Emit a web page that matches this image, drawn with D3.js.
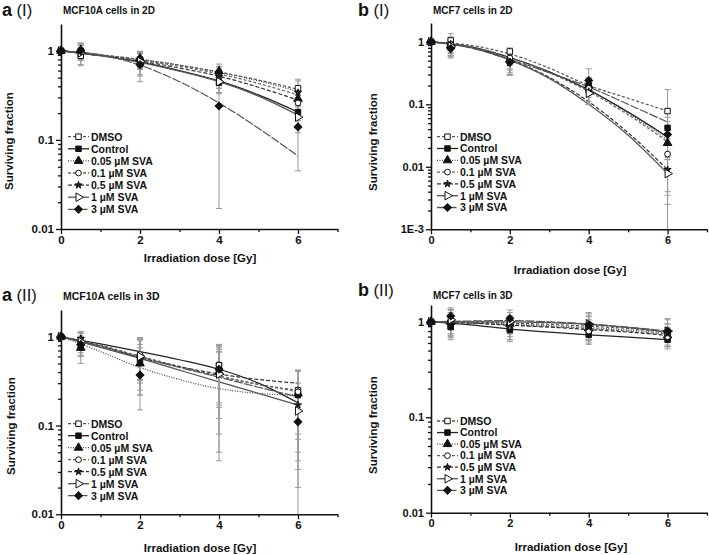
<!DOCTYPE html>
<html><head><meta charset="utf-8">
<script src="https://cdn.jsdelivr.net/npm/d3@7"></script>
<style>body{margin:0;background:#fff} text{font-family:"Liberation Sans",Arial,sans-serif}</style>
</head><body><svg id="c" width="709" height="555"></svg>
<script>
// ---------- DATA ----------
const doses = [0, 0.5, 2, 4, 6];
const fitDoses = [0, 1, 2, 3, 4, 5, 6];
const seriesNames = ["DMSO", "Control", "0.05 µM SVA", "0.1 µM SVA", "0.5 µM SVA", "1 µM SVA", "3 µM SVA"];
const xTickLabels = ["0", "2", "4", "6"];
const yTicksA = [1, 0.1, 0.01];
const yTickLabelsA = ["1", "0.1", "0.01"];
const yTicksBI = [1, 0.1, 0.01, 0.001];
const yTickLabelsBI = ["1", "0.1", "0.01", "1E-3"];

// a (I) MCF10A 2D
const aI_means = [
  [1, 0.88, 0.80, 0.55, 0.38],
  [1, 1.00, 0.72, 0.44, 0.205],
  [1, 1.02, 0.82, 0.59, 0.29],
  [1, 0.97, 0.78, 0.50, 0.26],
  [1, 0.99, 0.80, 0.52, 0.34],
  [1, 0.95, 0.76, 0.45, 0.18],
  [1, 1.00, 0.70, 0.24, 0.14]];
const aI_errors = [
  [0, 0.20, 0.18, 0.12, 0.10],
  [0, 0.15, 0.20, 0.10, 0.04],
  [0, 0.20, 0.17, 0.12, 0.08],
  [0, 0.18, 0.15, 0.12, 0.08],
  [0, 0.20, 0.16, 0.14, 0.12],
  [0, 0.25, 0.22, 0.12, 0.06],
  [0, 0.22, 0.25, 0.223, 0.095]];
const aI_fits = [
  [1, 0.90, 0.80, 0.69, 0.58, 0.47, 0.37],
  [1, 0.88, 0.75, 0.60, 0.46, 0.32, 0.205],
  [1, 0.90, 0.80, 0.69, 0.57, 0.46, 0.35],
  [1, 0.90, 0.79, 0.67, 0.55, 0.43, 0.32],
  [1, 0.89, 0.77, 0.64, 0.52, 0.39, 0.28],
  [1, 0.88, 0.74, 0.59, 0.45, 0.31, 0.19],
  [1, 0.90, 0.69, 0.45, 0.26, 0.135, 0.066]];

// b (I) MCF7 2D
const bI_means = [
  [1, 1.05, 0.70, 0.17, 0.078],
  [1, 0.90, 0.50, 0.20, 0.042],
  [1, 0.88, 0.52, 0.20, 0.024],
  [1, 0.90, 0.55, 0.18, 0.016],
  [1, 0.86, 0.47, 0.16, 0.009],
  [1, 0.85, 0.48, 0.15, 0.0078],
  [1, 0.78, 0.47, 0.24, 0.033]];
const bI_errors = [
  [0, 0.30, 0.10, 0.07, 0.095],
  [0, 0.25, 0.20, 0.06, 0.02],
  [0, 0.20, 0.15, 0.07, 0.01],
  [0, 0.30, 0.20, 0.08, 0.012],
  [0, 0.25, 0.15, 0.06, 0.0055],
  [0, 0.30, 0.18, 0.05, 0.0053],
  [0, 0.20, 0.18, 0.13, 0.02]];
const bI_fits = [
  [1, 0.88, 0.64, 0.38, 0.20, 0.125, 0.078],
  [1, 0.83, 0.56, 0.33, 0.17, 0.075, 0.030],
  [1, 0.84, 0.57, 0.33, 0.17, 0.072, 0.027],
  [1, 0.82, 0.55, 0.32, 0.16, 0.068, 0.025],
  [1, 0.82, 0.52, 0.27, 0.11, 0.035, 0.009],
  [1, 0.81, 0.51, 0.26, 0.10, 0.032, 0.0078],
  [1, 0.80, 0.52, 0.32, 0.19, 0.100, 0.052]];

// a (II) MCF10A 3D
const aII_means = [
  [1, 0.85, 0.55, 0.48, 0.25],
  [1, 0.80, 0.60, 0.42, 0.22],
  [1, 0.75, 0.50, 0.40, 0.23],
  [1, 0.90, 0.63, 0.48, 0.24],
  [1, 0.95, 0.57, 0.42, 0.17],
  [1, 0.88, 0.60, 0.38, 0.146],
  [1, 0.82, 0.37, 0.43, 0.11]];
const aII_errors = [
  [0, 0.25, 0.40, 0.30, 0.17],
  [0, 0.20, 0.38, 0.30, 0.20],
  [0, 0.25, 0.25, 0.35, 0.18],
  [0, 0.20, 0.30, 0.32, 0.17],
  [0, 0.20, 0.25, 0.25, 0.13],
  [0, 0.22, 0.30, 0.30, 0.114],
  [0, 0.20, 0.15, 0.39, 0.11]];
const aII_fits = [
  [1, 0.80, 0.60, 0.46, 0.36, 0.29, 0.25],
  [1, 0.83, 0.68, 0.55, 0.43, 0.30, 0.18],
  [1, 0.68, 0.45, 0.33, 0.26, 0.23, 0.22],
  [1, 0.80, 0.60, 0.46, 0.36, 0.29, 0.24],
  [1, 0.78, 0.58, 0.46, 0.38, 0.33, 0.30],
  [1, 0.76, 0.57, 0.42, 0.31, 0.23, 0.17],
  [1, 0.78, 0.59, 0.45, 0.35, 0.27, 0.21]];

// b (II) MCF7 3D
const bII_means = [
  [1, 0.90, 0.85, 0.90, 0.75],
  [1, 0.88, 0.82, 0.73, 0.65],
  [1, 1.00, 0.95, 0.85, 0.72],
  [1, 1.02, 0.90, 0.80, 0.70],
  [1, 1.00, 0.92, 0.88, 0.75],
  [1, 1.05, 1.00, 0.95, 0.80],
  [1, 1.15, 1.08, 0.93, 0.80]];
const bII_errors = [
  [0, 0.20, 0.20, 0.25, 0.20],
  [0, 0.20, 0.20, 0.15, 0.10],
  [0, 0.25, 0.20, 0.20, 0.15],
  [0, 0.30, 0.25, 0.20, 0.15],
  [0, 0.35, 0.22, 0.25, 0.20],
  [0, 0.30, 0.25, 0.30, 0.25],
  [0, 0.25, 0.25, 0.28, 0.28]];
const bII_fits = [
  [1, 0.99, 0.97, 0.94, 0.90, 0.85, 0.78],
  [1, 0.93, 0.84, 0.78, 0.73, 0.69, 0.65],
  [1, 0.98, 0.95, 0.91, 0.87, 0.82, 0.76],
  [1, 0.97, 0.93, 0.89, 0.85, 0.80, 0.74],
  [1, 0.97, 0.92, 0.88, 0.83, 0.78, 0.72],
  [1, 1.00, 1.00, 0.98, 0.94, 0.87, 0.78],
  [1, 1.02, 1.03, 1.00, 0.95, 0.88, 0.80]];

// ---------- STYLES ----------
const styles = [
  {dash: "3,2", color: "#555", marker: "square", fill: "#fff"},
  {dash: null, color: "#222", marker: "square", fill: "#111"},
  {dash: "1,1.5", color: "#444", marker: "triangle", fill: "#111"},
  {dash: "3,2", color: "#666", marker: "circle", fill: "#fff"},
  {dash: "4,2", color: "#333", marker: "star", fill: "#222"},
  {dash: null, color: "#555", marker: "rtri", fill: "#fff"},
  {dash: "9,1.5", color: "#555", marker: "diamond", fill: "#111"}];

const svg = d3.select("#c");
const FONT = '"Liberation Sans",Arial,sans-serif';

function markerPath(type) {
  switch (type) {
    case "square": return d3.symbol(d3.symbolSquare, 30)();
    case "triangle": return d3.symbol(d3.symbolTriangle, 32)();
    case "circle": return d3.symbol(d3.symbolCircle, 26)();
    case "star": return d3.symbol(d3.symbolStar, 16)();
    case "rtri": return d3.symbol(d3.symbolTriangle, 32)();
    case "diamond": return d3.symbol(d3.symbolSquare, 30)();
  }
}
function markerRot(type) { return type === "rtri" ? 90 : (type === "diamond" ? 45 : 0); }

function drawMarker(g, type, fill, cx, cy) {
  g.append("path").attr("d", markerPath(type))
    .attr("transform", `translate(${cx},${cy}) rotate(${markerRot(type)})`)
    .attr("fill", fill).attr("stroke", "#111").attr("stroke-width", 1);
}

function drawPanel(cfg, means, errs, fits) {
  const g = svg.append("g");
  const x = d3.scaleLinear().domain([0, 7]).range([cfg.x0, cfg.x1]);
  const y = d3.scaleLog().domain([cfg.ymin, cfg.ymax]).range([cfg.yb, cfg.yt]);

  // minor y ticks
  const minors = [];
  for (let e = Math.floor(Math.log10(cfg.ymin)); e <= 1; e++)
    for (let m = 2; m <= 9; m++) { const v = m * Math.pow(10, e); if (v > cfg.ymin && v < cfg.ymax) minors.push(v); }
  const yMinor = g.append("g").attr("transform", `translate(${cfg.x0},0)`)
    .call(d3.axisLeft(y).tickValues(minors).tickSize(3).tickSizeOuter(0).tickFormat(""));
  yMinor.select(".domain").remove();
  const xMinor = g.append("g").attr("transform", `translate(0,${cfg.yb})`)
    .call(d3.axisBottom(x).tickValues([1, 3, 5, 7]).tickSize(3).tickSizeOuter(0).tickFormat(""));
  xMinor.select(".domain").remove();

  const yAx = g.append("g").attr("transform", `translate(${cfg.x0},0)`)
    .call(d3.axisLeft(y).tickValues(cfg.yTicks).tickSize(5).tickSizeOuter(0).tickPadding(2)
      .tickFormat((d, i) => cfg.yLabels[i]));
  const xAx = g.append("g").attr("transform", `translate(0,${cfg.yb})`)
    .call(d3.axisBottom(x).tickValues([0, 2, 4, 6]).tickSize(5).tickSizeOuter(0).tickPadding(2)
      .tickFormat((d, i) => xTickLabels[i]));
  [yAx, xAx, yMinor, xMinor].forEach(a => {
    a.selectAll("path,line").attr("stroke", "#111").attr("stroke-width", 1.3);
    a.selectAll("text").attr("fill", "#111").style("font-family", FONT)
      .style("font-size", cfg.tickFs + "px").style("font-weight", "bold");
  });
  yAx.select(".domain").attr("stroke-width", 1.6);
  xAx.select(".domain").attr("stroke-width", 1.6);

  // fitted curves
  const line = d3.line().x((d, i) => x(fitDoses[i])).y(d => y(d)).curve(d3.curveMonotoneX);
  fits.forEach((f, s) => {
    g.append("path").attr("d", line(f)).attr("fill", "none")
      .attr("stroke", styles[s].color).attr("stroke-width", 1.2)
      .attr("stroke-dasharray", styles[s].dash);
  });
  // error bars
  means.forEach((m, s) => {
    m.forEach((v, i) => {
      const e = errs[s][i];
      if (!e) return;
      const lo = v - e, hi = v + e;
      const yLo = lo > cfg.ymin ? y(lo) : cfg.yb;
      const yHi = y(hi);
      const cx = x(doses[i]);
      g.append("line").attr("x1", cx).attr("x2", cx).attr("y1", yLo).attr("y2", yHi)
        .attr("stroke", "#999").attr("stroke-width", 1);
      g.append("line").attr("x1", cx - 3).attr("x2", cx + 3).attr("y1", yHi).attr("y2", yHi)
        .attr("stroke", "#999").attr("stroke-width", 1);
      if (lo > cfg.ymin)
        g.append("line").attr("x1", cx - 3).attr("x2", cx + 3).attr("y1", yLo).attr("y2", yLo)
          .attr("stroke", "#999").attr("stroke-width", 1);
    });
  });
  // markers
  means.forEach((m, s) => {
    m.forEach((v, i) => drawMarker(g, styles[s].marker, styles[s].fill, x(doses[i]), y(v)));
  });

  // legend
  seriesNames.forEach((name, s) => {
    const ly = cfg.legY + s * cfg.legDy;
    g.append("line").attr("x1", cfg.legX).attr("x2", cfg.legX + 21).attr("y1", ly).attr("y2", ly)
      .attr("stroke", styles[s].color).attr("stroke-width", 1.3).attr("stroke-dasharray", styles[s].dash);
    drawMarker(g, styles[s].marker, styles[s].fill, cfg.legX + 10.5, ly);
    g.append("text").attr("x", cfg.legX + 23).attr("y", ly + 3.8).text(name)
      .style("font-size", "10.5px").style("font-weight", "bold").attr("fill", "#111");
  });

  // titles
  const t = g.append("text").attr("x", cfg.tX).attr("y", cfg.tY).attr("fill", "#111");
  t.append("tspan").text(cfg.letter).style("font-size", "18px").style("font-weight", "bold");
  t.append("tspan").text(" " + cfg.roman).style("font-size", "16.5px");
  g.append("text").attr("x", cfg.x0 + 2).attr("y", cfg.subY).text(cfg.sub)
    .style("font-size", cfg.subFs + "px").style("font-weight", "bold").attr("fill", "#111");
  g.append("text").attr("transform", `translate(${cfg.ylX},${cfg.ylY}) rotate(-90)`)
    .attr("text-anchor", "middle").text("Surviving fraction")
    .style("font-size", "11.5px").style("font-weight", "bold").attr("fill", "#111");
  g.append("text").attr("x", cfg.xlX).attr("y", cfg.xlY).attr("text-anchor", "middle")
    .text("Irradiation dose [Gy]").style("font-size", "11.5px").style("font-weight", "bold").attr("fill", "#111");
}

drawPanel({x0: 61, x1: 337.5, ymin: 0.01, ymax: 2, yb: 229, yt: 24, yTicks: yTicksA, yLabels: yTickLabelsA,
  tickFs: 11.5, legX: 68, legY: 136.7, legDy: 12.1, tX: 2, tY: 16, letter: "a", roman: "(I)",
  sub: "MCF10A cells in 2D", subY: 14, subFs: 10, ylX: 13, ylY: 141, xlX: 200, xlY: 262},
  aI_means, aI_errors, aI_fits);
drawPanel({x0: 431, x1: 707, ymin: 0.001, ymax: 2, yb: 229.3, yt: 23, yTicks: yTicksBI, yLabels: yTickLabelsBI,
  tickFs: 11, legX: 437, legY: 136.7, legDy: 11.8, tX: 358, tY: 16, letter: "b", roman: "(I)",
  sub: "MCF7 cells in 2D", subY: 14, subFs: 10, ylX: 377, ylY: 142, xlX: 570, xlY: 274},
  bI_means, bI_errors, bI_fits);
drawPanel({x0: 61, x1: 337.5, ymin: 0.01, ymax: 2, yb: 514.3, yt: 310, yTicks: yTicksA, yLabels: yTickLabelsA,
  tickFs: 11.5, legX: 68, legY: 423.7, legDy: 12, tX: 2, tY: 301, letter: "a", roman: "(II)",
  sub: "MCF10A cells in 3D", subY: 300, subFs: 10.5, ylX: 15, ylY: 426, xlX: 200, xlY: 552},
  aII_means, aII_errors, aII_fits);
drawPanel({x0: 431, x1: 707, ymin: 0.01, ymax: 1.5, yb: 512.7, yt: 305, yTicks: yTicksA, yLabels: yTickLabelsA,
  tickFs: 11, legX: 437, legY: 421, legDy: 11.55, tX: 358, tY: 296, letter: "b", roman: "(II)",
  sub: "MCF7 cells in 3D", subY: 299, subFs: 10, ylX: 377, ylY: 425, xlX: 571, xlY: 551},
  bII_means, bII_errors, bII_fits);
</script></body></html>
